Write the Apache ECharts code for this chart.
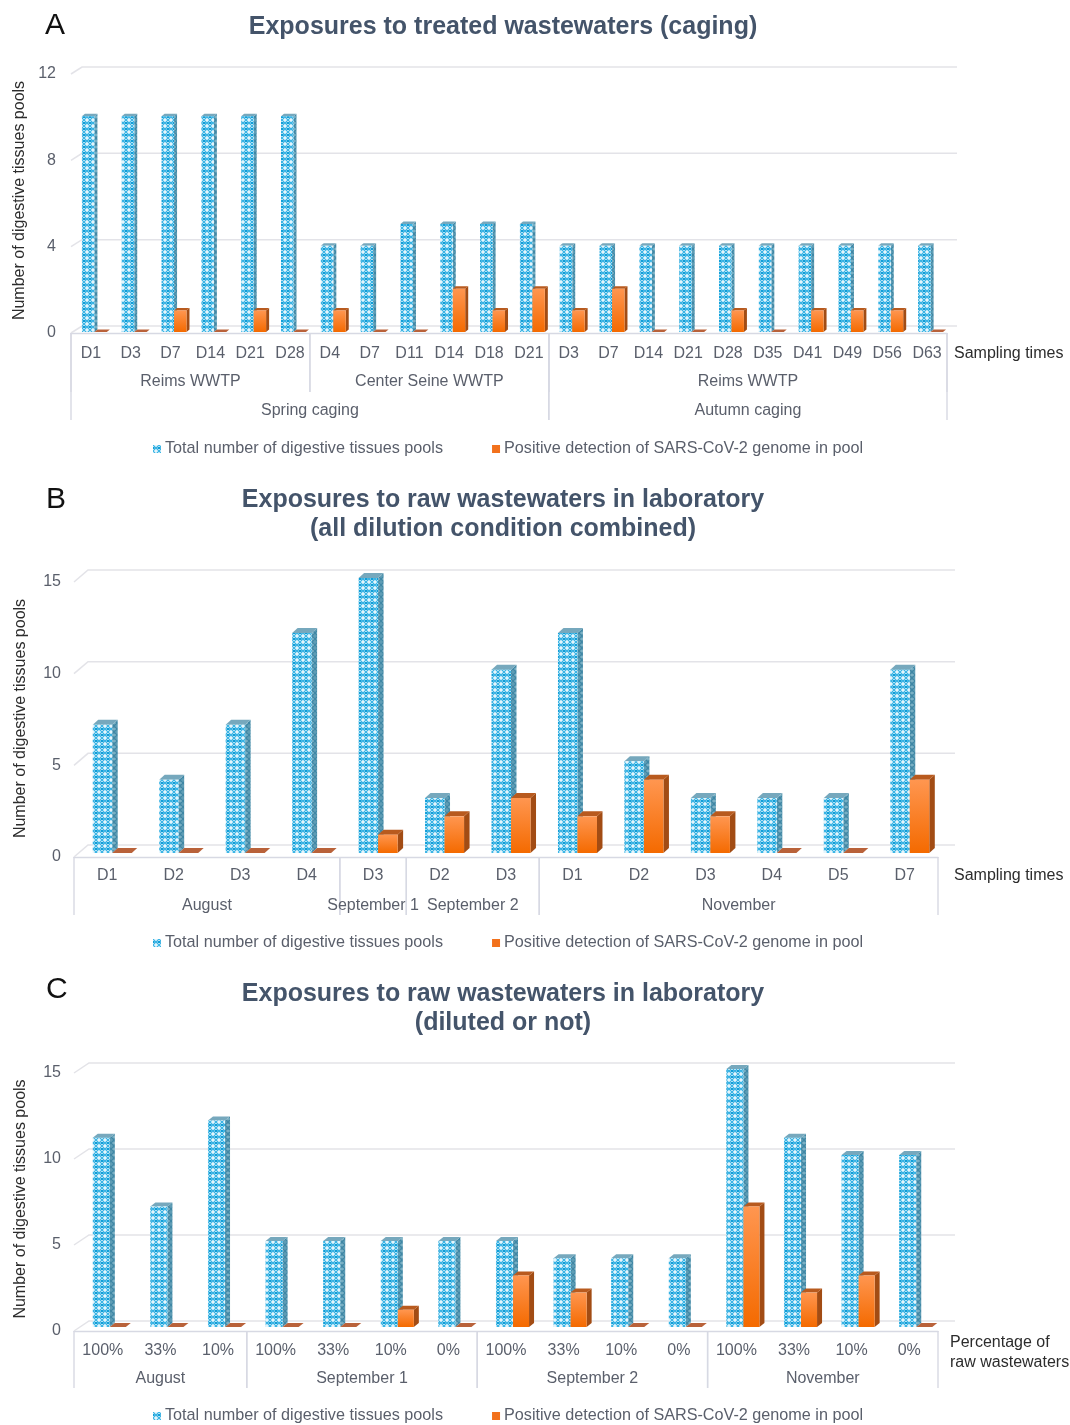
<!DOCTYPE html>
<html><head><meta charset="utf-8">
<style>html,body{margin:0;padding:0;background:#fff}#c{width:1070px;height:1425px}</style>
<script src="https://cdn.jsdelivr.net/npm/echarts@6/dist/echarts.min.js"></script>
</head><body><div id="c"></div>
<script>
const totalName = 'Total number of digestive tissues pools';
const positiveName = 'Positive detection of SARS-CoV-2 genome in pool';

const catsA = ['D1','D3','D7','D14','D21','D28','D4','D7','D11','D14','D18','D21','D3','D7','D14','D21','D28','D35','D41','D49','D56','D63'];
const totalA = [10,10,10,10,10,10,4,4,5,5,5,5,4,4,4,4,4,4,4,4,4,4];
const positiveA = [0,0,1,0,1,0,1,0,0,2,1,2,1,2,0,0,1,0,1,1,1,0];
const groupNamesA1 = ['Reims WWTP','Center Seine WWTP','Reims WWTP'];
const groupSizesA1 = [6,6,10];
const groupNamesA2 = ['Spring caging','Autumn caging'];
const groupSizesA2 = [12,10];
const ticksA = [0,4,8,12];

const catsB = ['D1','D2','D3','D4','D3','D2','D3','D1','D2','D3','D4','D5','D7'];
const totalB = [7,4,7,12,15,3,10,12,5,3,3,3,10];
const positiveB = [0,0,0,0,1,2,3,2,4,2,0,0,4];
const groupNamesB = ['August','September 1','September 2','November'];
const groupSizesB = [4,1,2,6];
const ticksB = [0,5,10,15];

const catsC = ['100%','33%','10%','100%','33%','10%','0%','100%','33%','10%','0%','100%','33%','10%','0%'];
const totalC = [11,7,12,5,5,5,5,5,4,4,4,15,11,10,10];
const positiveC = [0,0,0,0,0,1,0,3,2,0,0,7,2,3,0];
const groupNamesC = ['August','September 1','September 2','November'];
const groupSizesC = [3,4,4,4];
const ticksC = [0,5,10,15];

function lattice(bg, ink, dot){
  const cv = document.createElement('canvas'); cv.width = 6; cv.height = 6;
  const g = cv.getContext('2d');
  g.fillStyle = bg; g.fillRect(0,0,6,6);
  g.strokeStyle = ink; g.lineWidth = 1.1;
  g.beginPath();
  g.moveTo(0,0); g.lineTo(3,3); g.lineTo(0,6);
  g.moveTo(6,0); g.lineTo(3,3); g.lineTo(6,6);
  g.stroke();
  g.fillStyle = dot;
  g.fillRect(0,2,1.6,2); g.fillRect(4.6,2,1.4,2);
  return cv;
}
const front = {image: lattice('#e4f5fc','#35b2e4','#0f9ed8'), repeat:'repeat'};
const side = {image: lattice('#5f9db5','#3f87a5','#7ab0c4'), repeat:'repeat'};
const topFace = '#76a8bd';
const orangeFront = new echarts.graphic.LinearGradient(0,0,0,1,[{offset:0,color:'#ff9650'},{offset:1,color:'#f46a00'}]);
const orangeSide = '#a24c14', orangeTop = '#b85a1e', flatTop = '#b9623a';
const gridCol = '#e3e3e8', axisCol = '#d7d9e3', labelCol = '#5a5f6b', darkCol = '#2c2c2c';

const panels = [
 {cats:catsA,total:totalA,pos:positiveA,ticks:ticksA,max:12,interval:4,left:71,right:947,top:74,bottom:333,
  wall:[11,7,10],base:1,depth:[3,2.5],blue:[-.226,.088],orange:[.088,.40],gap:42,nameShift:6,labelMargin:13,tickMargin:15,
  levels:[{names:groupNamesA1,sizes:groupSizesA1,text:49,line:59},{names:groupNamesA2,sizes:groupSizesA2,text:78,line:87}],
  xName:'Sampling times',xNameTop:11,xGap:7,legendTop:439},
 {cats:catsB,total:totalB,pos:positiveB,ticks:ticksB,max:15,interval:5,left:74,right:938,top:582,bottom:857,
  wall:[14,12,17],base:4,depth:[5.5,5],blue:[-.218,.075],orange:[.075,.369],gap:45,nameShift:2,labelMargin:11,tickMargin:13,
  levels:[{names:groupNamesB,sizes:groupSizesB,text:49,line:58}],
  xName:'Sampling times',xNameTop:9,xGap:16,legendTop:933},
 {cats:catsC,total:totalC,pos:positiveC,ticks:ticksC,max:15,interval:5,left:74,right:938,top:1073,bottom:1331,
  wall:[15,10,17],base:4,depth:[5,4],blue:[-.174,.122],orange:[.122,.40],gap:45,nameShift:6,labelMargin:12,tickMargin:13,
  levels:[{names:groupNamesC,sizes:groupSizesC,text:48,line:57}],
  xName:'Percentage of\nraw wastewaters',xNameTop:2,xGap:12,legendTop:1406}
];

function poly(pts, fill){ return {type:'polygon', shape:{points:pts}, style:{fill:fill}, silent:true}; }

function barItem(p, span, faces){
  return function(params, api){
    const i = api.value(0), v = api.value(1);
    const w = api.size([1,0])[0];
    const c = api.coord([i,0])[0];
    const y0 = api.coord([i,0])[1] - p.base;
    const yv = api.coord([i,v])[1] - p.base;
    const x1 = c + span[0]*w, x2 = c + span[1]*w;
    const [dx,dy] = p.depth;
    if (v === 0) {
      return poly([[x1,y0],[x2,y0],[x2+dx,y0-dy],[x1+dx,y0-dy]], flatTop);
    }
    return {type:'group', children:[
      poly([[x2,y0],[x2+dx,y0-dy],[x2+dx,yv-dy],[x2,yv]], faces.side),
      poly([[x1,yv],[x2,yv],[x2+dx,yv-dy],[x1+dx,yv-dy]], faces.top),
      {type:'rect', shape:{x:x1,y:yv,width:x2-x1,height:y0-yv}, style:{fill:faces.front}, silent:true}
    ]};
  };
}
function wallItem(p){
  return function(params, api){
    const v = api.value(1);
    const pt = api.coord([0,v]);
    const half = api.size([1,0])[0]/2;
    const xl = pt[0]-half, xr = api.coord([p.cats.length-1,v])[0]+half, y = pt[1];
    return {type:'polyline', silent:true,
      shape:{points:[[xl,y],[xl+p.wall[0],y-p.wall[1]],[xr+p.wall[2],y-p.wall[1]]]},
      style:{stroke:gridCol,lineWidth:1.5,fill:null}};
  };
}
function groupItem(p, level){
  return function(params, api){
    const start = api.value(0), n = api.value(2);
    const half = api.size([1,0])[0]/2;
    const y = api.coord([start,0])[1];
    const a = api.coord([start,0])[0]-half, b = api.coord([start+n-1,0])[0]+half;
    const ln = x => ({type:'line', silent:true, shape:{x1:x,y1:y,x2:x,y2:y+level.line}, style:{stroke:axisCol,lineWidth:1.4}});
    return {type:'group', children:[ ln(a), ln(b),
      {type:'text', silent:true, style:{x:(a+b)/2, y:y+level.text, text:level.names[params.dataIndex],
        align:'center', verticalAlign:'middle', fill:labelCol, font:'16px "Liberation Sans"'}}
    ]};
  };
}

const grids=[], xAxes=[], yAxes=[], series=[], legends=[];
panels.forEach((p,k)=>{
  grids.push({left:p.left, top:p.top, width:p.right-p.left, height:p.bottom-p.top, outerBoundsMode:'none'});
  xAxes.push({type:'category', gridIndex:k, data:p.cats, boundaryGap:true,
    axisTick:{show:false}, axisLine:{show:true,lineStyle:{color:axisCol,width:1.4}},
    axisLabel:{interval:0,color:labelCol,fontSize:16,margin:p.labelMargin,fontFamily:'Liberation Sans'},
    name:p.xName, nameLocation:'end', nameGap:p.xGap,
    nameTextStyle:{color:darkCol,fontSize:16,align:'left',verticalAlign:'top',padding:[p.xNameTop,0,0,0],lineHeight:20,fontFamily:'Liberation Sans'}});
  yAxes.push({type:'value', gridIndex:k, min:0, max:p.max, interval:p.interval,
    axisLine:{show:false}, axisTick:{show:false}, splitLine:{show:false},
    axisLabel:{color:labelCol,fontSize:16,margin:p.tickMargin,padding:[4,0,0,0],fontFamily:'Liberation Sans'},
    name:'Number of digestive tissues pools', nameLocation:'middle', nameGap:p.gap, nameRotate:90,
    nameTextStyle:{color:darkCol,fontSize:16,padding:[0,0,0,p.nameShift],fontFamily:'Liberation Sans'}});
  const base = {type:'custom', coordinateSystem:'cartesian2d', xAxisIndex:k, yAxisIndex:k, encode:{x:0,y:1}, clip:false, animation:false};
  series.push({...base, z:1, renderItem:wallItem(p), data:p.ticks.map(t=>[0,t]), silent:true});
  p.levels.forEach(level=>{
    let s=0; const rows=level.sizes.map(n=>{const r=[s,0,n]; s+=n; return r;});
    series.push({...base, z:1, renderItem:groupItem(p,level), data:rows, silent:true});
  });
  series.push({...base, z:3, name:totalName, itemStyle:{color:front},
    renderItem:barItem(p,p.blue,{front:front,side:side,top:topFace}), data:p.total.map((v,i)=>[i,v])});
  series.push({...base, z:4, name:positiveName, itemStyle:{color:'#f2711c'},
    renderItem:barItem(p,p.orange,{front:orangeFront,side:orangeSide,top:orangeTop}), data:p.pos.map((v,i)=>[i,v])});
  legends.push({top:p.legendTop+2, left:153, selectedMode:false, icon:'rect', itemWidth:8, itemHeight:8, itemGap:49,
    padding:0, data:[totalName,positiveName], textStyle:{color:labelCol,fontSize:16.2,fontFamily:'Liberation Sans',padding:[0,0,0,-1]}});
});

const titleStyle = {color:'#44546a',fontSize:25,fontWeight:'bold',fontFamily:'Liberation Sans',lineHeight:29};
const letterStyle = {color:'#111',fontSize:30,fontWeight:'normal',fontFamily:'Liberation Sans'};
const titles = [
 {text:'Exposures to treated wastewaters (caging)', left:503, top:13, textAlign:'center', padding:0, textStyle:titleStyle},
 {text:'Exposures to raw wastewaters in laboratory\n(all dilution condition combined)', left:503, top:486, textAlign:'center', padding:0, textStyle:titleStyle},
 {text:'Exposures to raw wastewaters in laboratory\n(diluted or not)', left:503, top:980, textAlign:'center', padding:0, textStyle:titleStyle},
 {text:'A', left:45, top:11, padding:0, textStyle:letterStyle},
 {text:'B', left:46, top:485, padding:0, textStyle:letterStyle},
 {text:'C', left:46, top:975, padding:0, textStyle:letterStyle}
];

const chart = echarts.init(document.getElementById('c'), null, {renderer:'canvas', width:1070, height:1425});
chart.setOption({animation:false, backgroundColor:'#fff', title:titles, legend:legends, grid:grids, xAxis:xAxes, yAxis:yAxes, series:series});
</script></body></html>
